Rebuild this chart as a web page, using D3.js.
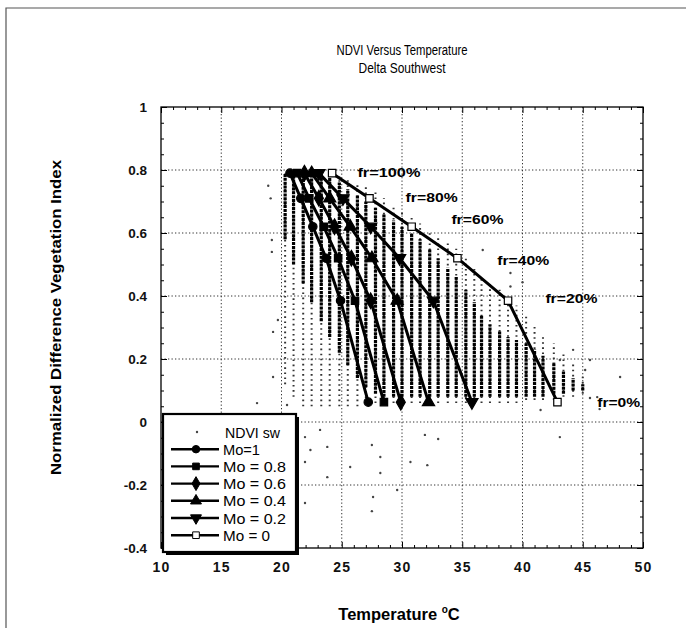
<!DOCTYPE html>
<html>
<head>
    <meta charset="utf-8">
    <title>NDVI Versus Temperature</title>
    <style>
        body {
            margin: 0;
            padding: 0;
            background: #fff;
            font-family: "Liberation Sans", Arial, sans-serif;
        }
        #chart {
            width: 686px;
            height: 628px;
        }
    </style>
</head>
<body>
    <div id="chart"></div>

    <script src="https://d3js.org/d3.v7.min.js"></script>
    <script>
        // Mo curves: NDVI at fr = 100, 80, 60, 40, 20, 0 %
        const frLevels = ['fr=100%', 'fr=80%', 'fr=60%', 'fr=40%', 'fr=20%', 'fr=0%'];
        const curveNdvi = [0.79, 0.71, 0.62, 0.52, 0.385, 0.063];
        const moLabels = ['Mo=1', 'Mo = 0.8', 'Mo = 0.6', 'Mo = 0.4', 'Mo = 0.2', 'Mo = 0'];
        const tMo1 = [20.7, 21.6, 22.6, 23.7, 24.9, 27.2];
        const tMo08 = [21.3, 22.3, 23.5, 24.7, 26.1, 28.5];
        const tMo06 = [21.9, 23.1, 24.4, 25.8, 27.4, 29.9];
        const tMo04 = [22.5, 24.0, 25.7, 27.5, 29.6, 32.2];
        const tMo02 = [23.1, 25.1, 27.4, 29.8, 32.6, 35.8];
        const tMo0 = [24.2, 27.3, 30.8, 34.6, 38.8, 42.9];

        // where the fr labels sit (data units)
        const frLabelT = [26.3, 30.3, 34.1, 37.9, 41.9, 46.2];
        const frLabelN = [0.795, 0.715, 0.645, 0.515, 0.395, 0.065];

        // NDVI sw observations, drawn as the columns of dots they form
        const colT = [20.3, 21.0, 21.8, 22.5, 23.3, 24.0, 24.8, 25.5, 26.3, 27.0, 27.8, 28.5, 29.3, 30.0, 30.8, 31.5, 32.3,
            33.0, 33.8, 34.5, 35.3, 36.0, 36.6, 37.3, 38.1, 38.8, 39.5, 40.3, 41.0, 41.7, 42.6, 43.4, 44.2, 45.0];
        const colLo = [0.12, 0.08, 0.05, 0.05, 0.05, 0.05, 0.05, 0.05, 0.05, 0.06, 0.06, 0.06, 0.06, 0.06, 0.06, 0.06, 0.06,
            0.06, 0.06, 0.06, 0.06, 0.06, 0.06, 0.06, 0.06, 0.06, 0.06, 0.07, 0.07, 0.07, 0.07, 0.08, 0.08, 0.09];
        const colHi = [0.79, 0.79, 0.79, 0.79, 0.79, 0.79, 0.78, 0.77, 0.76, 0.75, 0.73, 0.71, 0.69, 0.67, 0.65, 0.63, 0.61,
            0.59, 0.57, 0.55, 0.52, 0.49, 0.46, 0.44, 0.42, 0.40, 0.37, 0.34, 0.31, 0.28, 0.25, 0.22, 0.19, 0.15];
        const denseLo = [0.58, 0.50, 0.44, 0.38, 0.32, 0.27, 0.22, 0.18, 0.14, 0.11, 0.09, 0.08, 0.08, 0.08, 0.08, 0.08, 0.08,
            0.08, 0.08, 0.08, 0.08, 0.08, 0.08, 0.08, 0.08, 0.08, 0.08, 0.08, 0.08, 0.08, 0.09, 0.09, 0.10, 0.10];
        const denseHi = [0.79, 0.79, 0.79, 0.79, 0.79, 0.78, 0.76, 0.74, 0.72, 0.70, 0.68, 0.66, 0.64, 0.62, 0.60, 0.58, 0.55,
            0.52, 0.49, 0.46, 0.42, 0.38, 0.34, 0.31, 0.29, 0.27, 0.26, 0.25, 0.23, 0.21, 0.19, 0.16, 0.14, 0.12];

        // stray points away from the main cloud
        const ptT = [17.97, 20.46, 21.95, 23.2, 22.4, 23.8, 21.95, 23.8, 21.95, 25.7, 27.5, 28.2, 28.2, 27.6, 27.5, 29.6, 30.7,
            31.9, 33.0, 32.1, 41.5, 43.1, 46.4, 19.2, 19.2, 19.3, 19.7, 19.3, 18.9, 19.1, 48.1, 45.2, 45.6, 44.2, 46.2, 45.6,
            39.0, 40.0, 36.7, 39.0, 43.1];
        const ptN = [0.06, 0.054, -0.048, -0.025, -0.089, -0.079, -0.127, -0.175, -0.257, -0.143, -0.073, -0.111, -0.162, -0.238,
            -0.283, -0.216, -0.127, -0.041, -0.054, -0.137, 0.038, -0.048, 0.041, 0.578, 0.54, 0.286, 0.324, 0.143, 0.75, 0.71,
            0.143, 0.165, 0.197, 0.229, 0.079, 0.076, 0.43, 0.444, 0.546, 0.473, 0.197];

        const xTicks = [10, 15, 20, 25, 30, 35, 40, 45, 50];
        const yTicks = [-0.4, -0.2, 0, 0.2, 0.4, 0.6, 0.8, 1];

        const W = 686, H = 628;
        const svg = d3.select('#chart').append('svg')
            .attr('width', W)
            .attr('height', H);

        // the scanned type is a bit wider than Arial, so stretch labels to the widths measured on the picture
        function label(parent, tx, ty, str, size, weight, len, anchor) {
            const t = parent.append('text')
                .attr('x', tx).attr('y', ty)
                .attr('font-size', size).attr('font-weight', weight || 'normal')
                .attr('text-anchor', anchor || 'start')
                .text(str);
            if (len) t.attr('textLength', len).attr('lengthAdjust', 'spacingAndGlyphs');
            return t;
        }

        // figure frame (left and top edges show in the scan)
        svg.append('path')
            .attr('d', 'M6,628 L6,8 L686,8')
            .attr('fill', 'none')
            .attr('stroke', '#555')
            .attr('stroke-width', 1.2);

        const x = d3.scaleLinear().domain([10, 50]).range([161, 643]);
        const y = d3.scaleLinear().domain([-0.4, 1]).range([548, 107]);

        // titles
        label(svg, 402, 55, 'NDVI Versus Temperature', 14, 'normal', 131, 'middle')
            .attr('font-family', '"Liberation Sans Narrow", "Liberation Sans", Arial, sans-serif');
        label(svg, 402, 73, 'Delta Southwest', 14, 'normal', 87, 'middle')
            .attr('font-family', '"Liberation Sans Narrow", "Liberation Sans", Arial, sans-serif');

        // dotted grid
        const grid = svg.append('g').attr('stroke', '#333').attr('stroke-width', 1)
            .attr('stroke-dasharray', '1.3,2.2');
        grid.selectAll('.gx').data(xTicks.slice(1, -1)).enter().append('line')
            .attr('x1', d => x(d)).attr('x2', d => x(d))
            .attr('y1', y(1)).attr('y2', y(-0.4));
        grid.selectAll('.gy').data(yTicks.slice(1, -1)).enter().append('line')
            .attr('x1', x(10)).attr('x2', x(50))
            .attr('y1', d => y(d)).attr('y2', d => y(d));

        // observation columns
        const cols = colT.map((t, i) => ({ t, lo: colLo[i], hi: colHi[i], dlo: denseLo[i], dhi: denseHi[i] }));
        const obs = svg.append('g');
        obs.selectAll('.sparse').data(cols).enter().append('line')
            .attr('x1', d => x(d.t)).attr('x2', d => x(d.t))
            .attr('y1', d => y(d.lo)).attr('y2', d => y(d.hi))
            .attr('stroke', '#333').attr('stroke-width', 2)
            .attr('stroke-dasharray', '1.6,3.5');
        obs.selectAll('.dense').data(cols).enter().append('line')
            .attr('x1', d => x(d.t)).attr('x2', d => x(d.t))
            .attr('y1', d => y(d.dlo)).attr('y2', d => y(d.dhi))
            .attr('stroke', '#000').attr('stroke-width', 3.2)
            .attr('stroke-dasharray', '3,0.9');
        obs.selectAll('circle').data(ptT.map((t, i) => [t, ptN[i]])).enter().append('circle')
            .attr('cx', d => x(d[0])).attr('cy', d => y(d[1]))
            .attr('r', 1.2).attr('fill', '#444');

        // Mo curves
        const series = [tMo1, tMo08, tMo06, tMo04, tMo02, tMo0];
        const symbols = [
            { type: d3.symbolCircle, size: 55, rot: 0, fill: '#000' },
            { type: d3.symbolSquare, size: 55, rot: 0, fill: '#000' },
            { type: d3.symbolDiamond, size: 70, rot: 0, fill: '#000' },
            { type: d3.symbolTriangle, size: 65, rot: 0, fill: '#000' },
            { type: d3.symbolTriangle, size: 65, rot: 180, fill: '#000' },
            { type: d3.symbolSquare, size: 55, rot: 0, fill: '#fff' }
        ];
        const line = d3.line().x(d => x(d[0])).y(d => y(d[1]));
        series.forEach((ts, k) => {
            const pts = ts.map((t, i) => [t, curveNdvi[i]]);
            const g = svg.append('g');
            g.append('path').attr('d', line(pts))
                .attr('fill', 'none').attr('stroke', '#000')
                .attr('stroke-width', 3).attr('stroke-linejoin', 'round');
            g.selectAll('path.m').data(pts).enter().append('path')
                .attr('class', 'm')
                .attr('d', d3.symbol().type(symbols[k].type).size(symbols[k].size)())
                .attr('transform', d => `translate(${x(d[0])},${y(d[1])}) rotate(${symbols[k].rot})`)
                .attr('fill', symbols[k].fill).attr('stroke', '#000').attr('stroke-width', 1.2);
        });

        // fr labels
        const frWidth = [63, 52, 52, 52, 52, 43];
        frLevels.forEach((d, i) => {
            label(svg, x(frLabelT[i]), y(frLabelN[i]) + 5, d, 13.5, 'bold', frWidth[i]);
        });

        // axes: ticks pointing inward on all four sides
        const minorX = d3.range(10, 51, 1).filter(v => v % 5 !== 0);
        const minorY = d3.range(-8, 21, 1).filter(v => v % 4 !== 0).map(v => v / 20);
        const axes = svg.append('g').attr('class', 'axes');
        const addAxis = (fn, scale, vals, size, tx, ty, fmt) => {
            const a = fn(scale).tickValues(vals).tickSize(size).tickPadding(8);
            a.tickFormat(fmt || (() => ''));
            const g = axes.append('g').attr('transform', `translate(${tx},${ty})`).call(a);
            g.select('.domain').remove();
            g.selectAll('line').attr('stroke', '#000');
            return g;
        };
        const yFmt = d => (d === 0 || d === 1) ? String(d) : d.toFixed(1);
        const gb = addAxis(d3.axisBottom, x, xTicks, -6, 0, y(-0.4), d3.format('d'));
        addAxis(d3.axisBottom, x, minorX, -3, 0, y(-0.4));
        addAxis(d3.axisTop, x, xTicks, -6, 0, y(1));
        addAxis(d3.axisTop, x, minorX, -3, 0, y(1));
        const gl = addAxis(d3.axisLeft, y, yTicks, -6, x(10), 0, yFmt);
        addAxis(d3.axisLeft, y, minorY, -3, x(10), 0);
        addAxis(d3.axisRight, y, yTicks, -6, x(50), 0);
        addAxis(d3.axisRight, y, minorY, -3, x(50), 0);
        gb.selectAll('text').attr('font-size', 14).attr('font-weight', 'bold').attr('letter-spacing', 1.3)
            .attr('font-family', '"Liberation Sans", Arial, sans-serif').attr('fill', '#111').attr('dy', '1.15em');
        gl.selectAll('text').attr('font-size', 13.5).attr('font-weight', 'bold')
            .attr('font-family', '"Liberation Sans", Arial, sans-serif').attr('fill', '#111').attr('dx', '-6');

        svg.append('rect')
            .attr('x', x(10)).attr('y', y(1))
            .attr('width', x(50) - x(10)).attr('height', y(-0.4) - y(1))
            .attr('fill', 'none').attr('stroke', '#000').attr('stroke-width', 1.3);

        // axis titles
        const yt = svg.append('g')
            .attr('transform', `translate(61,${(y(1) + y(-0.4)) / 2 - 10}) rotate(-90)`);
        label(yt, 0, 0, 'Normalized Difference Vegetation Index', 14, 'bold', 315, 'middle');
        const xt = svg.append('text').attr('x', 399).attr('y', 620)
            .attr('text-anchor', 'middle').attr('font-size', 16.5).attr('font-weight', 'bold');
        xt.append('tspan').text('Temperature ');
        xt.append('tspan').attr('font-size', 10).attr('dy', -7).text('o');
        xt.append('tspan').attr('dy', 7).text('C');

        // legend
        const legendNames = ['NDVI sw'].concat(moLabels);
        const legendWidth = [55, 37, 63, 63, 63, 63, 47];
        const lg = svg.append('g');
        lg.append('rect').attr('x', 166).attr('y', 417).attr('width', 133).attr('height', 138)
            .attr('fill', '#000');
        lg.append('rect').attr('x', 163).attr('y', 414).attr('width', 133).attr('height', 138)
            .attr('fill', '#fff').attr('stroke', '#000').attr('stroke-width', 2.2);
        const rows = lg.selectAll('g.row').data(legendNames).enter().append('g')
            .attr('transform', (d, i) => `translate(0,${432 + i * 17.2})`);
        rows.each(function (d, i) {
            label(d3.select(this), i === 0 ? 225 : 223, 5.5, d, 14, 'normal', legendWidth[i]);
        });
        rows.filter((d, i) => i === 0).append('circle').attr('cx', 197).attr('cy', 0).attr('r', 1.2).attr('fill', '#444');
        rows.filter((d, i) => i > 0).each(function (d, i) {
            const r = d3.select(this);
            r.append('line').attr('x1', 171).attr('x2', 219).attr('y1', 0).attr('y2', 0)
                .attr('stroke', '#000').attr('stroke-width', 2.4);
            r.append('path')
                .attr('d', d3.symbol().type(symbols[i].type).size(symbols[i].size * 0.8)())
                .attr('transform', `translate(196,0) rotate(${symbols[i].rot})`)
                .attr('fill', symbols[i].fill).attr('stroke', '#000').attr('stroke-width', 1);
        });
    </script>
</body>
</html>
